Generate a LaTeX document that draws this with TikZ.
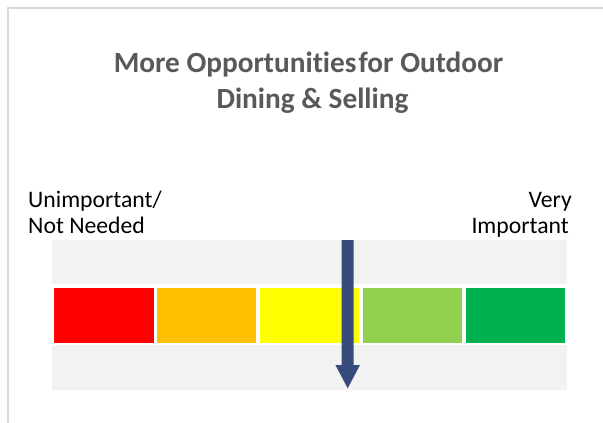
\documentclass[tikz,border=0pt]{standalone}
\usepackage{fontspec}
\setmainfont{Carlito}[Ligatures=NoCommon]
\definecolor{framegray}{HTML}{D9D9D9}
\definecolor{bggray}{HTML}{F2F2F2}
\definecolor{titlegray}{HTML}{595959}
\definecolor{barred}{HTML}{FF0000}
\definecolor{barorange}{HTML}{FFC000}
\definecolor{baryellow}{HTML}{FFFF00}
\definecolor{barlgreen}{HTML}{92D050}
\definecolor{bargreen}{HTML}{00B050}
\definecolor{arrowblue}{RGB}{55,75,125}
\begin{document}
\begin{tikzpicture}[x=1pt,y=-1pt,
  titletext/.style={font=\fontsize{29.3}{35}\selectfont\bfseries, text=titlegray, inner sep=0pt},
  labeltext/.style={font=\fontsize{23.7}{28}\selectfont, text=black, inner sep=0pt},
  barbox/.style={draw=white, line width=0.6pt, minimum width=100.2pt, minimum height=56pt, inner sep=0pt, anchor=north west}]
\useasboundingbox (0,0) rectangle (603,423);
\fill[white] (0,0) rectangle (603,423);
% frame
\draw[framegray, line width=2pt] (7.5,423) -- (7.5,8) -- (603,8);
% title
\node[titletext, anchor=base] (t1) at (308.5,72) {More Opportunities\kern2pt for Outdoor};
\node[titletext, anchor=base] (t2) at (312.5,108) {Dining \& Selling};
% side labels
\node[labeltext, anchor=base west] (l1) at (28,207.5) {Unimportant/};
\node[labeltext, anchor=base west] (l2) at (28,233.5) {Not Needed};
\node[labeltext, anchor=base east] (r1) at (572,207.5) {Very};
\node[labeltext, anchor=base east] (r2) at (569,233.5) {Important};
% background
\node[fill=bggray, minimum width=515pt, minimum height=150pt, inner sep=0pt, anchor=north west] (bg) at (52,240) {};
\node[fill=white, minimum width=515pt, minimum height=61pt, inner sep=0pt, anchor=north west] (strip) at (52,284) {};
% bars
\node[barbox, fill=barred] (b1) at (53.3,286.7) {};
\node[barbox, fill=barorange] (b2) at (156.1,286.7) {};
\node[barbox, fill=baryellow] (b3) at (258.9,286.7) {};
\node[barbox, fill=barlgreen] (b4) at (361.7,286.7) {};
\node[barbox, fill=bargreen] (b5) at (464.5,286.7) {};
% arrow
\fill[arrowblue] (341.7,240) -- (353.7,240) -- (353.7,365) -- (360,365) -- (347.7,388.3) -- (335.4,365) -- (341.7,365) -- cycle;
\end{tikzpicture}
\end{document}
